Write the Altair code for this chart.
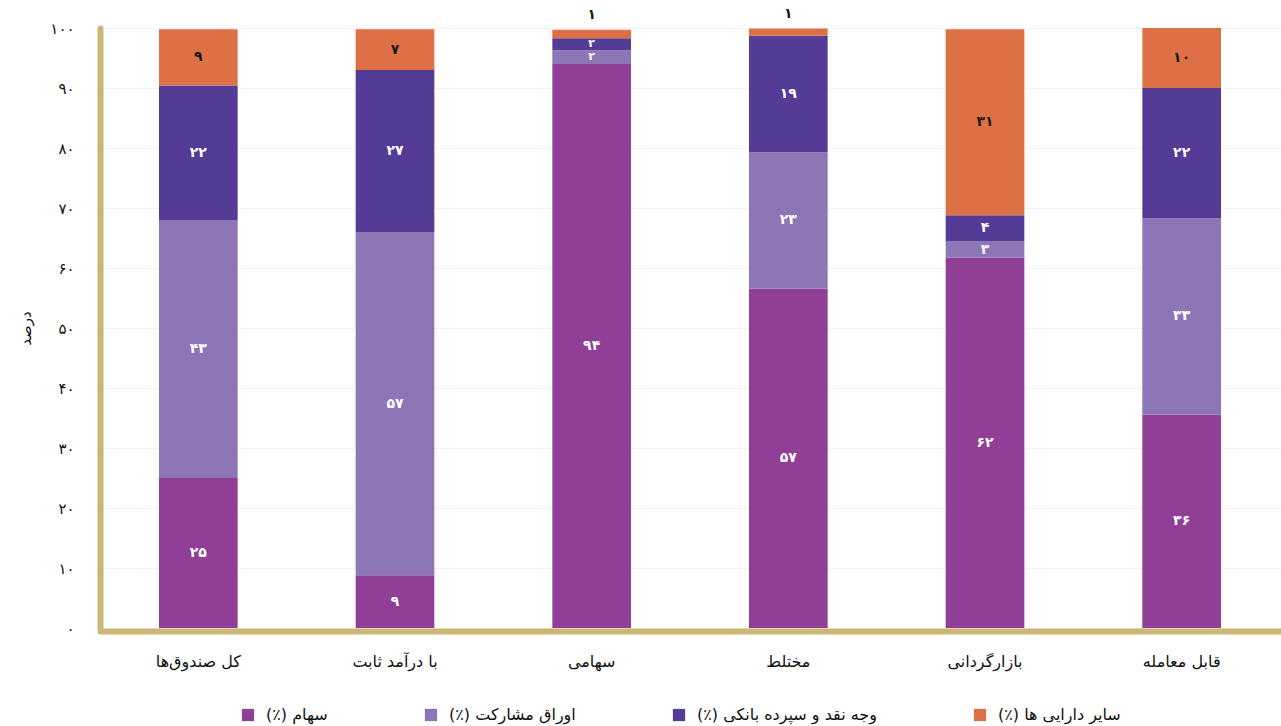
import altair as alt
import pandas as pd

RLM = "\u200f"
categories = ["کل صندوق‌ها", "با درآمد ثابت", "سهامی", "مختلط", "بازارگردانی", "قابل معامله"]
series = ["سهام (٪)", "اوراق مشارکت (٪)", "وجه نقد و سپرده بانکی (٪)", "سایر دارایی ها (٪)"]
colors = ["#913f96", "#8c76b6", "#533b96", "#de7045"]

stocks = [25.0, 8.8, 94.0, 56.6, 61.7, 35.6]
bonds = [43.0, 57.2, 2.3, 22.7, 2.7, 32.7]
cash = [22.4, 27.0, 2.0, 19.4, 4.4, 21.7]
other = [9.4, 6.8, 1.4, 1.2, 31.0, 10.0]

y_ticks = [0, 10, 20, 30, 40, 50, 60, 70, 80, 90, 100]

FA = str.maketrans("0123456789", "۰۱۲۳۴۵۶۷۸۹")
def fa(n):
    return str(n).translate(FA)

rows = []
for i, c in enumerate(categories):
    for j, (s, vals) in enumerate(zip(series, [stocks, bonds, cash, other])):
        v = vals[i]
        above = 1 if (j == 3 and v < 1.5) else 0
        rows.append({
            "category": c,
            "series": s + RLM,
            "order": j,
            "value": v,
            "label": fa(round(v)),
            "above": above,
            "dark": 1 if j == 3 else 0,
            "small": "s" if (v < 2.5 and not above) else "n",
        })
df = pd.DataFrame(rows)

FONT = "DejaVu Sans"
GOLD = "#cbb577"
ylabels = [fa(t) for t in y_ticks]
label_expr = "[" + ",".join("'" + l + "'" for l in ylabels) + "][round(datum.value/10)]"

base = alt.Chart(df).transform_stack(
    stack="value", groupby=["category"], as_=["y0", "y1"],
    sort=[alt.SortField("order", order="ascending")]
)

xenc = alt.X("category:N", sort=categories, title=None,
             scale=alt.Scale(paddingInner=0.6, paddingOuter=0.3),
             axis=alt.Axis(labelAngle=0, ticks=False, domainColor=GOLD, domainWidth=6,
                           domainCap="round", offset=3, labelPadding=22,
                           labelFontSize=16, labelColor="#111", labelFont=FONT))

bars = base.mark_bar().encode(
    x=xenc,
    y=alt.Y("y0:Q", scale=alt.Scale(domain=[0, 100]), title="درصد",
            axis=alt.Axis(values=y_ticks, labelExpr=label_expr, ticks=False,
                          domainColor=GOLD, domainWidth=6, domainCap="round",
                          gridColor="#f2f2f2", gridWidth=1, labelPadding=26,
                          labelFontSize=15, labelColor="#111", labelFont=FONT,
                          titleFont=FONT, titleFontSize=15, titleFontWeight="normal",
                          titleColor="#111", titlePadding=16)),
    y2="y1:Q",
    color=alt.Color("series:N", sort=[s + RLM for s in series],
                    scale=alt.Scale(domain=[s + RLM for s in series], range=colors),
                    legend=alt.Legend(title=None, orient="none", direction="horizontal",
                                      legendX=140, legendY=679, symbolType="square",
                                      symbolSize=150, symbolStrokeWidth=0,
                                      labelFontSize=16, labelFont=FONT, labelColor="#111",
                                      labelLimit=0, columnPadding=95, symbolOffset=0,
                                      labelOffset=10)),
    order=alt.Order("order:Q"),
)

labels = base.transform_calculate(
    ly="datum.above == 1 ? datum.y1 + 2.4 : (datum.y0 + datum.y1) / 2",
    col="datum.dark == 1 ? 'dark' : 'light'"
).mark_text(font=FONT, fontWeight="bold", baseline="middle").encode(
    x=alt.X("category:N", sort=categories),
    y=alt.Y("ly:Q"),
    text="label:N",
    size=alt.Size("small:N", scale=alt.Scale(domain=["n", "s"], range=[14, 11]), legend=None),
    color=alt.Color("col:N", scale=alt.Scale(domain=["dark", "light"], range=["#1a1a1a", "#ffffff"]),
                    legend=None),
)

chart = alt.layer(bars, labels).resolve_scale(color="independent").properties(
    width=1180, height=600,
    autosize=alt.AutoSizeParams(type="none"),
    padding={"left": 100, "top": 28, "right": 1, "bottom": 98},
    background="white",
).configure_view(stroke=None)

chart.save("out.html", embed_options={"renderer": "svg", "actions": False})
